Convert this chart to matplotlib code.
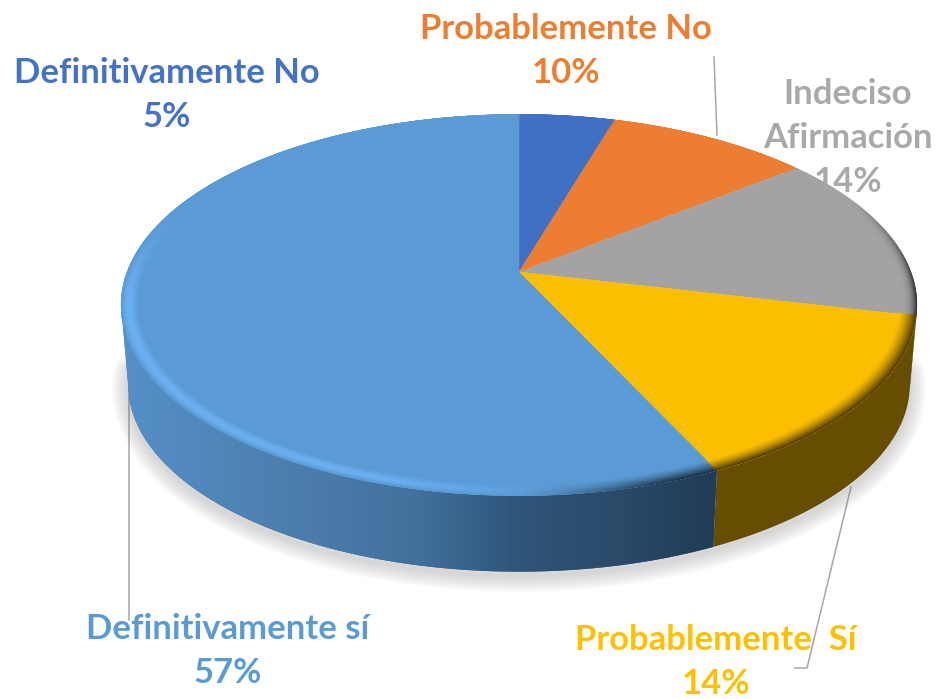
import numpy as np
import matplotlib
matplotlib.use("Agg")
import matplotlib.pyplot as plt
from matplotlib.collections import LineCollection
from matplotlib.colors import to_rgb
from matplotlib.patches import Polygon

# data
names = ["Definitivamente No", "Probablemente No", "Indeciso\nAfirmación", "Probablemente  Sí", "Definitivamente sí"]
values = [5, 10, 14, 14, 57]
face_colors = ["#4070c4", "#ed7d31", "#a3a3a3", "#fcbf00", "#5b9bd5"]
text_colors = ["#4472c4", "#ed7d31", "#a9a9a9", "#ffc000", "#5b9bd5"]
wall_colors = ["#2a4478", "#8f4b1e", "#4a4a4a", "#664d00", "#3a6a98"]

# where the labels sit, pixels of the picture
label_pos = [(167, 95), (566, 51), (848, 138), (716, 662), (228, 651)]

# leader lines
leaders = [
    ([714, 717], [57, 135]),
    ([129, 129], [396, 620]),
    ([851, 807, 795], [487, 668, 668]),
]

# blue wall gets darker to the right
wall_x = [122, 300, 420, 520, 620, 715]
wall_grey = ["#5590c8", "#4c7dac", "#41709c", "#2f5578", "#2a4a6a", "#213c55"]

k = 0.173


def project(t, r=1.0, drop=0.0):
    # perspective view of a circle, t in degrees clockwise from the top
    a = np.radians(t)
    w = 1 + k * r * np.cos(a)
    scale = 1 - 0.018 * drop / 80
    x = 519 + 392 * scale * r * np.sin(a) / w
    y = 272 + drop - 185 * scale * r * np.cos(a) / w
    return x, y


def smooth(v, lo, hi):
    u = np.clip((v - lo) / (hi - lo), 0, 1)
    return u * u * (3 - 2 * u)


fig = plt.figure(figsize=(9.39, 6.99), dpi=100)
ax = fig.add_axes([0, 0, 1, 1])
ax.set_xlim(0, 939)
ax.set_ylim(699, 0)
ax.axis("off")

for name, value, pos, col in zip(names, values, label_pos, text_colors):
    ax.text(pos[0], pos[1], name + "\n" + str(value) + "%", color=col, family="Lato", weight="bold",
            fontsize=24.9, ha="center", va="center", linespacing=1.46, zorder=1)

for lx, ly in leaders:
    ax.plot(lx, ly, color="#a6a6a6", lw=1.1, zorder=2)

# soft shadow under the pie
ts = np.linspace(95, 265, 200)
sx, sy = project(ts, drop=84)
for lw in np.linspace(24, 2, 12):
    ax.plot(sx, sy, color="#808080", alpha=0.028, lw=lw, solid_capstyle="round", zorder=3)

edges = np.cumsum([0] + values) / np.sum(values) * 360
# the view squeezes the back right of the pie a little
edges = edges - 2.5 * np.clip(np.sin(np.radians(2 * edges)), 0, None)
edges[3] -= 1.2

# side wall
for i in range(len(values)):
    t0 = max(edges[i], 100)
    t1 = min(edges[i + 1], 260)
    if t1 <= t0:
        continue
    ts = np.linspace(t0, t1, 120)
    x1, y1 = project(ts)
    x2, y2 = project(ts, drop=80)
    wall = Polygon(np.r_[np.c_[x1, y1], np.c_[x2, y2][::-1]], closed=True,
                   fc=wall_colors[i], ec="none", zorder=4)
    ax.add_patch(wall)
    if i == 4:
        rgb = np.array([to_rgb(c) for c in wall_grey])
        xs = np.arange(120, 720)
        grad = np.stack([np.interp(xs, wall_x, rgb[:, j]) for j in range(3)], axis=-1)[None, :, :]
        im = ax.imshow(grad, extent=(120, 720, 600, 300), aspect="auto", zorder=5)
        im.set_clip_path(wall)
ax.set_xlim(0, 939)
ax.set_ylim(699, 0)

# top of the pie, from the values
for i in range(len(values)):
    ts = np.linspace(edges[i], edges[i + 1], 150)
    x, y = project(ts)
    ax.add_patch(Polygon(np.r_[[[519, 272]], np.c_[x, y]], closed=True,
                         fc=face_colors[i], ec=face_colors[i], lw=0.3, zorder=6))

# rounded rim: light on the lower left, dark on the right
ts = np.linspace(0, 360, 721)
rim_x, rim_y = project(ts)
rim_clip = Polygon(np.c_[rim_x, rim_y], closed=True, transform=ax.transData)
tm = (ts[:-1] + ts[1:]) / 2
idx = np.searchsorted(edges, tm, side="right") - 1
base = np.array([to_rgb(c) for c in face_colors])[idx]
light = np.array(to_rgb("#6cb2f4"))
light_amt = smooth(tm, 172, 200) * (1 - smooth(tm, 258, 292)) * (idx == 4) * 0.9
dark_amt = smooth(tm, 62, 100) * (1 - smooth(tm, 158, 182))
power = np.where(idx == 2, 3.5, 1.4)
for r in np.linspace(0.958, 1.0, 18):
    u = (r - 0.958) / 0.042
    x, y = project(ts, r=r)
    pts = np.c_[x, y]
    segs = np.stack([pts[:-1], pts[1:]], axis=1)
    a = (light_amt * np.sin(np.pi * u ** 1.25))[:, None]
    b = (dark_amt * u ** power * 0.66)[:, None]
    cols = base * (1 - a) + light * a
    cols = cols * (1 - b)
    lc = LineCollection(segs, colors=cols, linewidths=1.5, zorder=7, capstyle="round")
    ax.add_collection(lc)
    lc.set_clip_path(rim_clip)

plt.savefig("out.png", dpi=100)
